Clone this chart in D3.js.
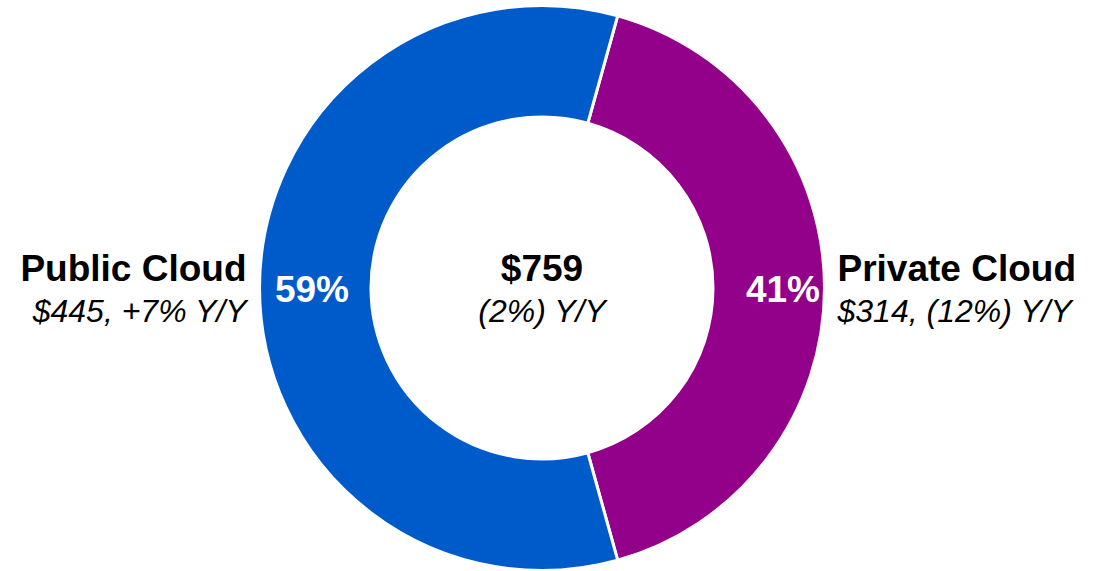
<!DOCTYPE html>
<html>
<head>
<meta charset="utf-8">
<script src="https://cdn.jsdelivr.net/npm/d3@7"></script>
<style>
  body { margin: 0; background: #fff; }
  text { font-family: "Liberation Sans", Arial, sans-serif; }
</style>
</head>
<body>
<div id="box-div"></div>
<script>
// data
const segments = ['Private Cloud', 'Public Cloud'];
const revenue = [314, 445];
const shares = ['41%', '59%'];
const subLabels = ['$314, (12%) Y/Y', '$445, +7% Y/Y'];
const colors = ['#93008a', '#005bca'];
const totalLabel = '$759';
const totalSub = '(2%) Y/Y';

let dms = {
    width: 1104,
    height: 571,
    cx: 542,
    cy: 288,
    outer: 282.5,
    inner: 171
}

const box = d3.select('#box-div').append('svg')
    .attr('width', dms.width)
    .attr('height', dms.height)

const content = box.append('g')
    .attr('transform', `translate(${dms.cx}, ${dms.cy})`)

const data = segments.map((s, i) => ({ name: s, value: revenue[i], share: shares[i], sub: subLabels[i], color: colors[i] }))

// private slice centred on the right side
const total = d3.sum(revenue)
const privSpan = revenue[0] / total * Math.PI * 2
const start = Math.PI / 2 - privSpan / 2

const pie = d3.pie()
    .value(d => d.value)
    .sort(null)
    .startAngle(start)
    .endAngle(start + Math.PI * 2)

const arcs = pie(data)

const arcGen = d3.arc()
    .innerRadius(dms.inner)
    .outerRadius(dms.outer)

content.selectAll('path')
    .data(arcs)
    .join('path')
    .attr('d', arcGen)
    .attr('fill', d => d.data.color)
    .attr('stroke', '#fff')
    .attr('stroke-width', 3)

// percentage labels inside the ring
const labelR = [241, 230]
content.selectAll('.pct')
    .data(arcs)
    .join('text')
    .attr('class', 'pct')
    .attr('x', (d, i) => d3.arc().innerRadius(labelR[i]).outerRadius(labelR[i]).centroid(d)[0])
    .attr('y', 14)
    .attr('text-anchor', 'middle')
    .attr('fill', '#fff')
    .attr('font-weight', 'bold')
    .attr('font-size', 37)
    .text(d => d.data.share)

// outside labels
const sideX = [dms.outer + 13, -(dms.outer + 13)]
const sideAnchor = ['start', 'end']
const outside = content.selectAll('.side')
    .data(arcs)
    .join('g')
    .attr('class', 'side')

outside.append('text')
    .attr('x', (d, i) => sideX[i])
    .attr('y', -7)
    .attr('text-anchor', (d, i) => sideAnchor[i])
    .attr('font-weight', 'bold')
    .attr('font-size', 37)
    .attr('fill', '#000')
    .text(d => d.data.name)

outside.append('text')
    .attr('x', (d, i) => sideX[i])
    .attr('y', 34)
    .attr('text-anchor', (d, i) => sideAnchor[i])
    .attr('font-style', 'italic')
    .attr('font-size', 32)
    .attr('fill', '#000')
    .text(d => d.data.sub)

// centre total
content.append('text')
    .attr('y', -7)
    .attr('text-anchor', 'middle')
    .attr('font-weight', 'bold')
    .attr('font-size', 37)
    .text(totalLabel)

content.append('text')
    .attr('y', 34)
    .attr('text-anchor', 'middle')
    .attr('font-style', 'italic')
    .attr('font-size', 32)
    .text(totalSub)
</script>
</body>
</html>
